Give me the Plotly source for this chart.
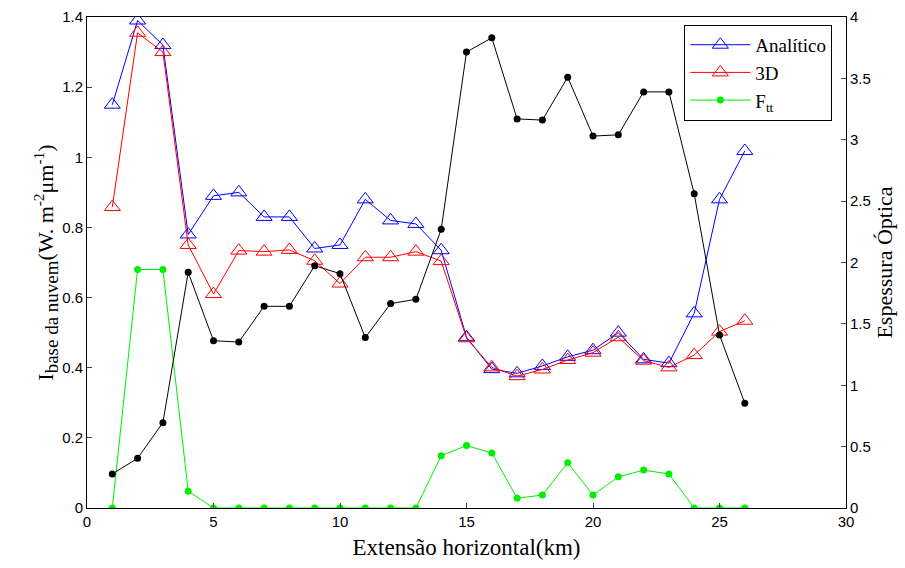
import plotly.graph_objects as go

x = list(range(1, 27))
analitico = [1.15, 1.39, 1.32, 0.78, 0.89, 0.90, 0.83, 0.83, 0.74, 0.75, 0.88, 0.82, 0.81, 0.735,
             0.487, 0.396, 0.384, 0.405, 0.431, 0.45, 0.50, 0.424, 0.413, 0.555, 0.88, 1.018]
tres_d = [0.858, 1.355, 1.30, 0.75, 0.61, 0.734, 0.731, 0.736, 0.705, 0.64, 0.715, 0.715, 0.731, 0.704,
          0.484, 0.401, 0.376, 0.395, 0.422, 0.443, 0.487, 0.42, 0.401, 0.436, 0.503, 0.534]
ftt = [0, 0.68, 0.68, 0.048, 0, 0, 0, 0, 0, 0, 0, 0, 0, 0.149,
       0.178, 0.157, 0.028, 0.037, 0.129, 0.037, 0.089, 0.108, 0.097, 0, 0, 0]
espessura = [0.277, 0.405, 0.695, 1.92, 1.363, 1.352, 1.643, 1.643, 1.974, 1.909, 1.388, 1.665, 1.70, 2.27,
             3.715, 3.83, 3.17, 3.16, 3.51, 3.03, 3.04, 3.39, 3.39, 2.56, 1.41, 0.853]

xticks = [0, 5, 10, 15, 20, 25, 30]
yticks_left = [0, 0.2, 0.4, 0.6, 0.8, 1, 1.2, 1.4]
yticks_right = [0, 0.5, 1, 1.5, 2, 2.5, 3, 3.5, 4]

fig = go.Figure()
fig.add_trace(go.Scatter(x=x, y=espessura, mode="lines+markers", yaxis="y2", showlegend=False,
                         line=dict(color="black", width=1), marker=dict(color="black", size=7)))
fig.add_trace(go.Scatter(x=x, y=analitico, mode="lines+markers", name="Analítico",
                         line=dict(color="blue", width=1),
                         marker=dict(symbol="triangle-up-open", size=14, color="blue", line=dict(width=1))))
fig.add_trace(go.Scatter(x=x, y=tres_d, mode="lines+markers", name="3D",
                         line=dict(color="red", width=1),
                         marker=dict(symbol="triangle-up-open", size=14, color="red", line=dict(width=1))))
fig.add_trace(go.Scatter(x=x, y=ftt, mode="lines+markers", name="F<sub>tt</sub>",
                         line=dict(color="#00ee00", width=1), marker=dict(color="#00ee00", size=7)))

serif = "Liberation Serif, Times New Roman, serif"
tickfont = dict(family="Liberation Sans, Arial, sans-serif", size=15, color="black")
titlefont = dict(family=serif, size=22, color="black")

ytitle = ("I<sub><span style='font-size:19px'>base da nuvem</span></sub>"
          "(W. m<sup>-2</sup>μm<sup>-1</sup>)")

fig.update_layout(
    width=905, height=568,
    margin=dict(l=87, r=59, t=17, b=60, autoexpand=False),
    paper_bgcolor="white", plot_bgcolor="white",
    xaxis=dict(range=[0, 30], tickvals=xticks, ticks="inside", ticklen=5, showgrid=False, zeroline=False,
               showline=True, linecolor="black", linewidth=1, mirror=True, tickfont=tickfont,
               automargin=False,
               title=dict(text="Extensão horizontal(km)", font=dict(family=serif, size=23, color="black"),
                          standoff=9)),
    yaxis=dict(range=[0, 1.4], tickvals=yticks_left, ticktext=[str(v) for v in yticks_left],
               ticks="inside", ticklen=5, showgrid=False, zeroline=False, automargin=False,
               showline=True, linecolor="black", linewidth=1, tickfont=tickfont,
               title=dict(text=ytitle, font=titlefont, standoff=2)),
    yaxis2=dict(range=[0, 4], tickvals=yticks_right, overlaying="y", side="right",
                ticks="inside", ticklen=5, showgrid=False, zeroline=False, automargin=False,
                showline=True, linecolor="black", linewidth=1, tickfont=tickfont,
                title=dict(text="Espessura Óptica", font=titlefont, standoff=6)),
    legend=dict(x=0.787, y=0.984, xanchor="left", yanchor="top", bgcolor="white",
                bordercolor="black", borderwidth=1,
                font=dict(family=serif, size=19, color="black"),
                itemwidth=60, tracegroupgap=4),
)

fig.write_html("out.html")
